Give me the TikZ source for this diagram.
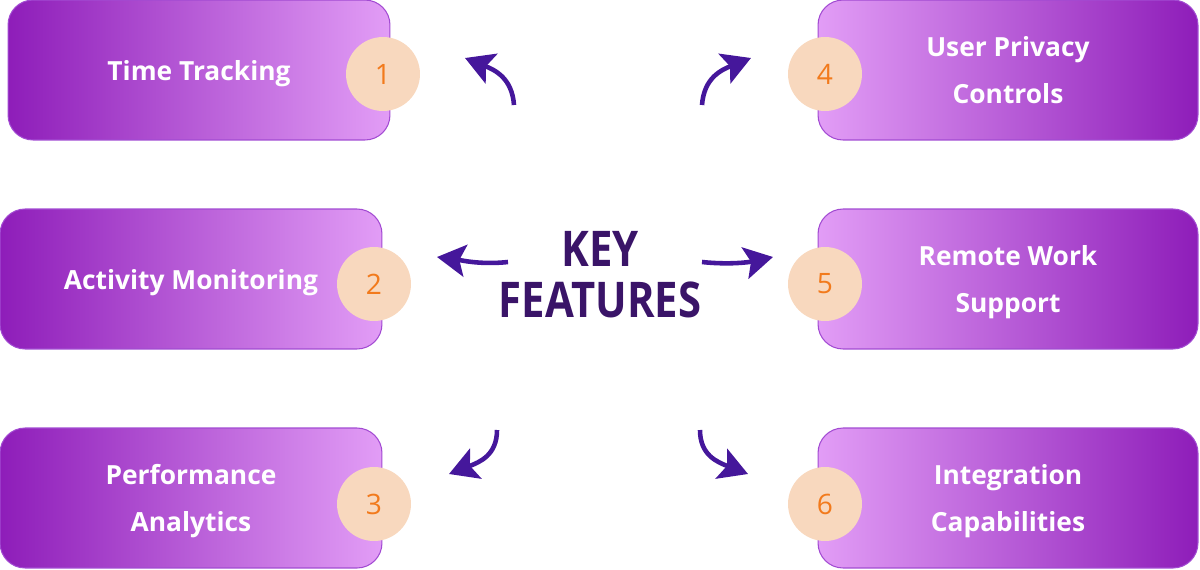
\documentclass[tikz,border=0pt]{standalone}
\usepackage{fontspec}
\setmainfont{Open Sans}
\newfontfamily\keyfont{Open Sans}[FakeStretch=0.85]
\usetikzlibrary{shapes,arrows.meta,calc}
\definecolor{featdark}{HTML}{8E1DB9}
\definecolor{featlight}{HTML}{E29DF6}
\definecolor{featedge}{HTML}{A24BD2}
\definecolor{numfill}{HTML}{F8D8BE}
\definecolor{numtext}{HTML}{F27A1C}
\definecolor{keytext}{HTML}{3A1468}
\definecolor{arrowcol}{HTML}{45179B}
\tikzset{
  featbox/.style = {rounded corners=0.5cm, draw=featedge, line width=0.6pt, text=white, align=center, text depth=-3pt, font=\fontsize{15}{27}\selectfont\bfseries, minimum height=2.8cm},
  feat_l/.style = {featbox, left color=featdark, right color=featlight, minimum width=7.64cm},
  feat_r/.style = {featbox, left color=featlight, right color=featdark, minimum width=7.6cm},
  num_c/.style = {circle, fill=numfill, text=numtext, minimum size=1.48cm, inner sep=0pt, font=\fontsize{16}{18}\selectfont},
  key_t/.style = {align=center, text=keytext, font=\fontsize{28}{29}\keyfont\bfseries},
  feat_arr/.style = {draw=arrowcol, line width=2.6pt, -{Stealth[length=0.57cm, width=0.64cm, inset=0.12cm]}}
}
\begin{document}
\begin{tikzpicture}[x=0.02cm, y=-0.02cm]
\useasboundingbox (0,0) rectangle (1200,569);
% left column
\node [feat_l] (time) at (199,70) {Time Tracking};
\node [feat_l] (activity) at (191,279) {Activity Monitoring};
\node [feat_l] (perf) at (191,498) {Performance\\Analytics};
% right column
\node [feat_r] (privacy) at (1008,70) {User Privacy\\Controls};
\node [feat_r] (remote) at (1008,279) {Remote Work\\Support};
\node [feat_r] (integ) at (1008,498) {Integration\\Capabilities};
% numbers
\node [num_c] (n1) at (383,74) {1};
\node [num_c] (n2) at (374,284) {2};
\node [num_c] (n3) at (374,504) {3};
\node [num_c] (n4) at (825,74) {4};
\node [num_c] (n5) at (825,284) {5};
\node [num_c] (n6) at (825,504) {6};
% centre
\node [key_t] (key) at (600,275) {KEY\\FEATURES};
% arrows
\coordinate (a1s) at (514,105); \coordinate (a1e) at (465,58);
\coordinate (a2s) at (508,262); \coordinate (a2e) at (437,257);
\coordinate (a3s) at (497,430); \coordinate (a3e) at (449,474);
\coordinate (a4s) at (702,105); \coordinate (a4e) at (751,58);
\coordinate (a5s) at (702,262); \coordinate (a5e) at (773,257);
\coordinate (a6s) at (700,430); \coordinate (a6e) at (748,474);
\draw [feat_arr] (a1s) .. controls (512,78) and (495,70) .. (a1e);
\draw [feat_arr] (a2s) .. controls (480,265) and (460,260) .. (a2e);
\draw [feat_arr] (a3s) .. controls (497,455) and (480,462) .. (a3e);
\draw [feat_arr] (a4s) .. controls (704,78) and (721,70) .. (a4e);
\draw [feat_arr] (a5s) .. controls (730,265) and (750,262) .. (a5e);
\draw [feat_arr] (a6s) .. controls (700,455) and (717,462) .. (a6e);
\end{tikzpicture}
\end{document}
